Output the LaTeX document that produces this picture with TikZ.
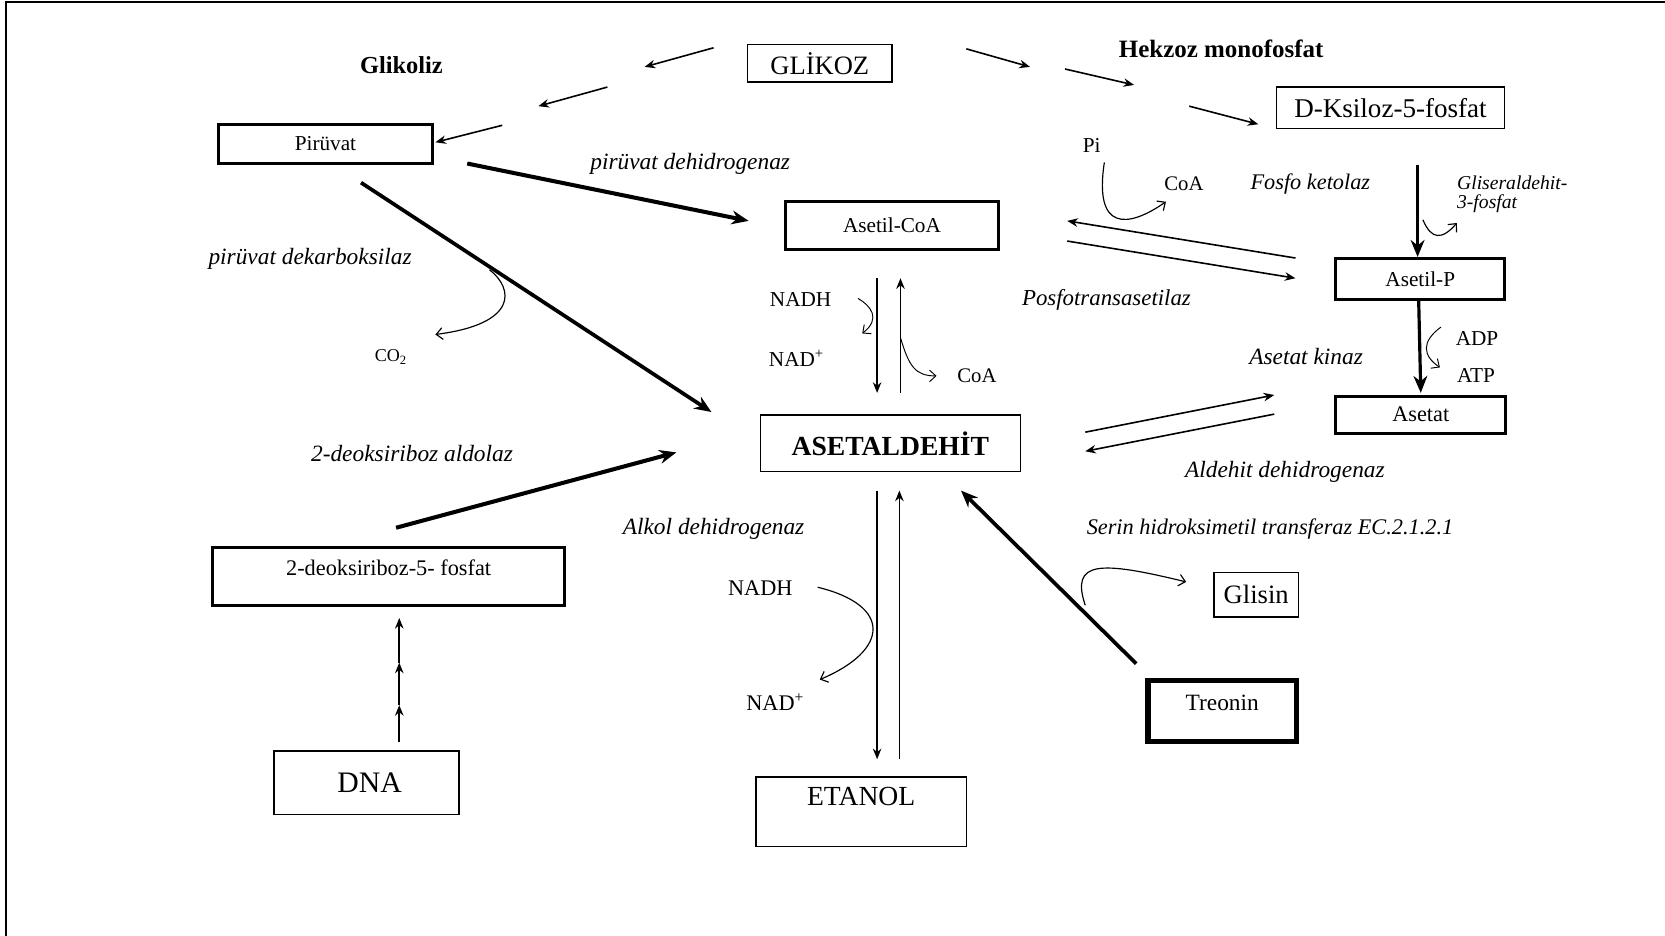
\documentclass[tikz,border=0pt]{standalone}
\usepackage{fontspec}
\setmainfont{Liberation Serif}
\usetikzlibrary{arrows.meta}
\newcommand\fsz[1]{\fontsize{#1}{#1}\selectfont}
\begin{document}
\begin{tikzpicture}[x=1pt,y=-1pt,
  box/.style={draw, line width=1.5pt, inner sep=0pt, align=center},
  tbox/.style={box, line width=2.8pt},
  thinarr/.style={line width=1.5pt, -{Stealth[length=10pt,width=8pt]}},
  fatarr/.style={line width=3.8pt, -{Stealth[length=16pt,width=13pt]}},
  curv/.style={line width=1.1pt, -{Straight Barb[length=6pt,width=11pt]}},
  lab/.style={inner sep=0pt},
  ilab/.style={inner sep=0pt, font=\fsz{22}\itshape}]
\useasboundingbox (0,0) rectangle (1568,881);
\draw[line width=2pt] (6,881) -- (6,2) -- (1568,2);

% boxes
\node[box, minimum width=136pt, minimum height=35pt, font=\fsz{25}] (glikoz) at (772,59.5) {GLİKOZ};
\node[box, minimum width=215pt, minimum height=39pt, font=\fsz{25.5}] (ksiloz) at (1309.5,101.5) {D-Ksiloz-5-fosfat};
\node[tbox, minimum width=201pt, minimum height=37pt, font=\fsz{20}] (piruvat) at (306.5,135.5) {Pirüvat};
\node[tbox, minimum width=200pt, minimum height=45pt, font=\fsz{20}] (asetilcoa) at (840,212.5) {Asetil-CoA};
\node[tbox, minimum width=159pt, minimum height=39pt, font=\fsz{20}] (asetilp) at (1337.5,262.5) {Asetil-P};
\node[tbox, minimum width=160pt, minimum height=35pt, font=\fsz{21}] (asetat) at (1338,390.5) {Asetat};
\node[box, minimum width=245pt, minimum height=53pt, font=\fsz{26}\bfseries] (asetaldehit) at (838.5,417.5) {ASETALDEHİT};
\node[tbox, minimum width=332pt, minimum height=54pt, font=\fsz{21}, text height=15pt, text depth=17pt] (deoks) at (366,543) {2-deoksiriboz-5- fosfat};
\node[box, minimum width=174pt, minimum height=60pt, font=\fsz{28}] (dna) at (345,737) {\hspace*{6pt}DNA};
\node[box, minimum width=198pt, minimum height=65pt, font=\fsz{26}, text height=18pt, text depth=29pt] (etanol) at (811,764.5) {ETANOL};
\node[box, minimum width=80pt, minimum height=42pt, font=\fsz{25}] (glisin) at (1183,560) {Glisin};
\node[box, line width=5pt, minimum width=140pt, minimum height=57pt, font=\fsz{22}, text height=16pt, text depth=16pt] (treonin) at (1151,669.5) {Treonin};

% labels
\node[lab, font=\fsz{23}\bfseries] (glikoliz) at (378,61) {Glikoliz};
\node[lab, font=\fsz{23.5}\bfseries] (hekzoz) at (1150,46) {Hekzoz monofosfat};
\node[ilab] (pdh) at (650,154) {pirüvat dehidrogenaz};
\node[ilab] (pdc) at (292,244) {pirüvat dekarboksilaz};
\node[lab, font=\fsz{17}] (co2) at (368,336) {CO\textsubscript{2}};
\node[lab, font=\fsz{20}] (nadh1) at (754,282) {NADH};
\node[lab, font=\fsz{20}] (nad1) at (750,337) {NAD\textsuperscript{+}};
\node[lab, font=\fsz{19.5}] (coa1) at (920,354) {CoA};
\node[lab, font=\fsz{20}] (pi) at (1028,137) {Pi};
\node[lab, font=\fsz{19.5}] (coa2) at (1115,173) {CoA};
\node[ilab, font=\fsz{21}\itshape] (fosfo) at (1234,173) {Fosfo ketolaz};
\node[lab, font=\fsz{18.5}\itshape, align=left, anchor=west] (glis3) at (1372,183) {Gliseraldehit-\\3-fosfat};
\node[ilab, font=\fsz{21.5}\itshape] (posfo) at (1042,282) {Posfotransasetilaz};
\node[lab, font=\fsz{20}] (adp) at (1391,319) {ADP};
\node[lab, font=\fsz{20}] (atp) at (1390,354) {ATP};
\node[ilab] (kinaz) at (1230,336) {Asetat kinaz};
\node[ilab] (aldh) at (1210,444) {Aldehit dehidrogenaz};
\node[ilab] (aldol) at (388,427) {2-deoksiriboz aldolaz};
\node[ilab] (alkol) at (672,498) {Alkol dehidrogenaz};
\node[lab, font=\fsz{21}] (nadh2) at (716,554) {NADH};
\node[lab, font=\fsz{21}] (nad2) at (730,661) {NAD\textsuperscript{+}};
\node[ilab, font=\fsz{21}\itshape] (serin) at (1196,498) {Serin hidroksimetil transferaz EC.2.1.2.1};

% glikoz -> piruvat (three segments)
\coordinate (gl1) at (672,45); \coordinate (gl2) at (607,63);
\coordinate (gl3) at (572,82); \coordinate (gl4) at (507,100);
\coordinate (gl5) at (473,118); \coordinate (gl6) at (410,134);
\draw[thinarr] (gl1) -- (gl2);
\draw[thinarr] (gl3) -- (gl4);
\draw[thinarr] (gl5) -- (gl6);
% glikoz -> ksiloz
\coordinate (gr1) at (910,46); \coordinate (gr2) at (970,63);
\coordinate (gr3) at (1003,65); \coordinate (gr4) at (1068,80);
\coordinate (gr5) at (1120,100); \coordinate (gr6) at (1185,117);
\draw[thinarr] (gr1) -- (gr2);
\draw[thinarr] (gr3) -- (gr4);
\draw[thinarr] (gr5) -- (gr6);

% piruvat -> asetil-CoA, asetaldehit
\coordinate (p1) at (440,154); \coordinate (p2) at (705,208);
\draw[fatarr] (p1) -- (p2);
\coordinate (p3) at (340,172); \coordinate (p4) at (670,388);
\draw[fatarr, line width=3.5pt] (p3) -- (p4);
\coordinate (c1) at (461,254); \coordinate (c2) at (410,315);
\draw[curv] (c1) .. controls (484,272) and (488,305) .. (c2);

% asetil-CoA <-> asetaldehit
\coordinate (ac1) at (826,262); \coordinate (ac2) at (826,370);
\coordinate (ac3) at (848,370); \coordinate (ac4) at (848,262);
\draw[thinarr] (ac1) -- (ac2);
\draw[thinarr] (ac3) -- (ac4);
\coordinate (n1) at (808,281); \coordinate (n2) at (812,314);
\draw[curv, line width=0.9pt] (n1) .. controls (820,288) and (830,300) .. (n2);
\coordinate (k1) at (848,318); \coordinate (k2) at (882,354);
\draw[curv, line width=0.9pt] (k1) .. controls (856,345) and (862,354) .. (k2);

% Pi -> CoA
\coordinate (pi1) at (1040,153); \coordinate (pi2) at (1098,190);
\draw[curv] (pi1) .. controls (1030,218) and (1062,215) .. (pi2);

% ksiloz -> asetil-P
\coordinate (ks1) at (1335,155); \coordinate (ks2) at (1335,242);
\draw[fatarr, line width=3pt] (ks1) -- (ks2);
\coordinate (gs1) at (1340,207); \coordinate (gs2) at (1372,210);
\draw[curv] (gs1) .. controls (1348,226) and (1358,226) .. (gs2);

% asetil-P <-> asetil-CoA
\coordinate (ap1) at (1220,243); \coordinate (ap2) at (1005,208);
\coordinate (ap3) at (1005,227); \coordinate (ap4) at (1220,262);
\draw[thinarr] (ap1) -- (ap2);
\draw[thinarr] (ap3) -- (ap4);

% asetil-P -> asetat
\coordinate (at1) at (1336,282); \coordinate (at2) at (1338,370);
\draw[fatarr, line width=3pt] (at1) -- (at2);
\coordinate (ad1) at (1357,308); \coordinate (ad2) at (1356,346);
\draw[curv, line width=0.9pt] (ad1) .. controls (1338,322) and (1340,335) .. (ad2);

% asetaldehit <-> asetat
\coordinate (as1) at (1022,407); \coordinate (as2) at (1200,372);
\coordinate (as3) at (1200,390); \coordinate (as4) at (1022,425);
\draw[thinarr] (as1) -- (as2);
\draw[thinarr] (as3) -- (as4);

% deoks -> asetaldehit
\coordinate (d1) at (373,497); \coordinate (d2) at (637,426);
\draw[fatarr] (d1) -- (d2);

% DNA -> deoks
\coordinate (dn1) at (376,699); \coordinate (dn2) at (376,664);
\coordinate (dn3) at (376,624); \coordinate (dn4) at (376,582);
\draw[thinarr] (dn1) -- (dn2);
\draw[thinarr] (dn2) -- (dn3);
\draw[thinarr] (dn3) -- (dn4);

% asetaldehit <-> etanol
\coordinate (e1) at (826,462); \coordinate (e2) at (826,715);
\coordinate (e3) at (847,715); \coordinate (e4) at (847,462);
\draw[thinarr] (e1) -- (e2);
\draw[thinarr] (e3) -- (e4);
\coordinate (na1) at (770,553); \coordinate (na2) at (772,640);
\draw[curv] (na1) .. controls (840,570) and (838,612) .. (na2);

% treonin -> asetaldehit
\coordinate (t1) at (1070,625); \coordinate (t2) at (905,462);
\draw[fatarr, line width=3.5pt] (t1) -- (t2);
\coordinate (gl7) at (1022,570); \coordinate (gl8) at (1117,548);
\draw[curv] (gl7) .. controls (1008,528) and (1035,528) .. (gl8);
\end{tikzpicture}
\end{document}
